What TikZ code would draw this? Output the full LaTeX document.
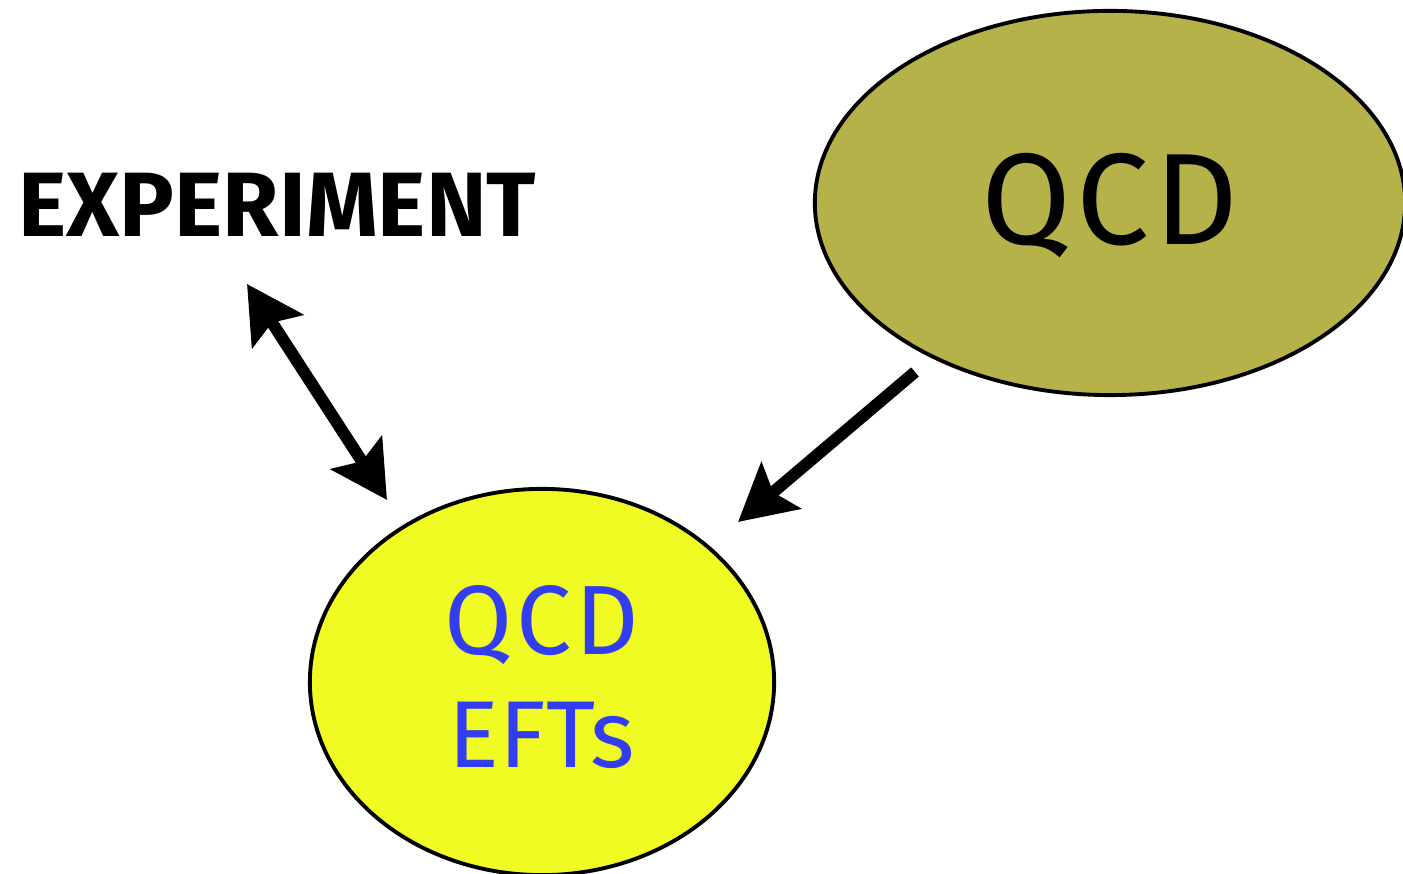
\documentclass[tikz,border=0pt]{standalone}
\usepackage{fontspec}
\setmainfont{Fira Sans}
\usetikzlibrary{shapes.geometric,arrows.meta}
\definecolor{olivefill}{RGB}{181,178,74}
\definecolor{eftyellow}{RGB}{240,250,35}
\definecolor{eftblue}{RGB}{50,60,240}
\tikzset{
  blob/.style={ellipse,draw=black,line width=1.1pt,inner sep=0pt},
  bigarrow/.style={line width=0.12cm,-{Stealth[length=0.56cm,width=0.6cm,inset=0.1cm]}},
  dblarrow/.style={line width=0.12cm,{Stealth[length=0.56cm,width=0.6cm,inset=0.1cm]}-{Stealth[length=0.56cm,width=0.6cm,inset=0.1cm]}}
}
\begin{document}
\begin{tikzpicture}[x=0.01cm,y=-0.01cm]
\useasboundingbox (0,0) rectangle (1403,874);
\clip (0,0) rectangle (1403,874);
\node[blob,fill=olivefill,minimum width=5.9cm,minimum height=3.84cm] (qcd) at (1110,203) {};
\node[font=\fontsize{37}{40}\selectfont,anchor=base] (qcdtext) at (1110,245) {\addfontfeatures{LetterSpace=4}QCD};
\node[blob,fill=eftyellow,minimum width=4.64cm,minimum height=3.86cm] (eft) at (542,682) {};
\node[font=\fontsize{28}{30}\selectfont,text=eftblue,anchor=base] (eftqcd) at (542,655) {\addfontfeatures{LetterSpace=4}QCD};
\node[font=\fontsize{27}{30}\selectfont,text=eftblue,anchor=base] (efts) at (542,768) {EFTs};
\node[font=\bfseries\fontsize{26}{30}\selectfont,anchor=base west,inner sep=0pt] (exp) at (18,237) {EXPERIMENT};
\coordinate (a1) at (247,284);
\coordinate (a2) at (387,500);
\coordinate (b1) at (915,372);
\coordinate (b2) at (738,522);
\draw[dblarrow] (a1) -- (a2);
\draw[bigarrow] (b1) -- (b2);
\end{tikzpicture}
\end{document}
